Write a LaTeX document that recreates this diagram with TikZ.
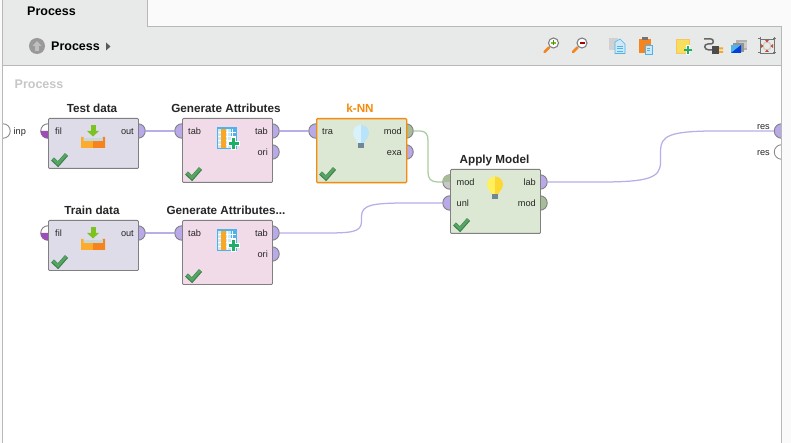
\documentclass[tikz,border=0pt]{standalone}
\usepackage{fontspec}
\setmainfont{Liberation Sans}
\definecolor{pagebg}{HTML}{FAFAFA}
\definecolor{barbg}{HTML}{E8E9E9}
\definecolor{frame}{HTML}{B8B8B8}
\definecolor{boxedge}{HTML}{808080}
\definecolor{lilac}{HTML}{DFDCEA}
\definecolor{pinkbox}{HTML}{F1DBE8}
\definecolor{greenbox}{HTML}{DCE8D3}
\definecolor{portpurple}{HTML}{B9A9E8}
\definecolor{portgreen}{HTML}{A6BD98}
\definecolor{wirepurple}{HTML}{B9AEE8}
\definecolor{wiregreen}{HTML}{A9CDA0}
\definecolor{selorange}{HTML}{F58A0B}
\definecolor{filpurple}{HTML}{9B4FB5}
\definecolor{checkdark}{HTML}{3E7F48}
\definecolor{checklight}{HTML}{55A664}
\tikzset{
  opbox/.style={draw=boxedge,line width=0.9pt,rounded corners=1pt,minimum width=90pt,inner sep=0pt,anchor=north west},
  optitle/.style={font=\bfseries\fontsize{11.7}{13}\selectfont,text=black!85,anchor=base,inner sep=0pt},
  portlabel/.style={font=\fontsize{9.2}{11}\selectfont,text=black!85,inner sep=0pt,anchor=base},
  port/.style={circle,draw=boxedge,line width=0.9pt,minimum size=14.5pt,inner sep=0pt,fill=portpurple},
  wire/.style={line width=1.25pt,draw=wirepurple},
}
\newcommand{\okmark}[2]{%
  \draw[line width=4.2pt,draw=checkdark,line join=miter] (#1+4.5,#2-9)--(#1+10,#2-3.8)--(#1+18.5,#2-13.5);
  \draw[line width=2.6pt,draw=checklight] (#1+5,#2-9)--(#1+10,#2-4.3)--(#1+18,#2-13.5);
}
\newcommand{\importicon}[2]{%
  \fill[HTML-arrow] (#1-2.5,#2-18)rectangle(#1+2.5,#2-12);
  \fill[HTML-arrow] (#1-6,#2-12)--(#1+6,#2-12)--(#1,#2-6.5)--cycle;
  \fill[HTML-trayl] (#1-12,#2-6)--(#1-9.5,#2-6)--(#1-9.5,#2-2)--(#1,#2-2)--(#1,#2+5)--(#1-12,#2+5)--cycle;
  \fill[HTML-trayr] (#1+12,#2-6)--(#1+9.5,#2-6)--(#1+9.5,#2-2)--(#1,#2-2)--(#1,#2+5)--(#1+12,#2+5)--cycle;
  \fill[HTML-traylight] (#1-9.5,#2-5)rectangle(#1+9.5,#2-2);
}
\newcommand{\tableicon}[2]{%
  \fill[HTML-cell] (#1,#2)rectangle(#1+20,#2+21);
  \fill[HTML-cellb] (#1,#2)rectangle(#1+20,#2+2);
  \fill[HTML-cellb] (#1+14,#2+2)rectangle(#1+20,#2+21);
  \foreach \gy in {5,9,13,17}{\draw[white,line width=0.7pt] (#1,#2+\gy)--(#1+20,#2+\gy);}
  \foreach \gx in {4,10,15}{\draw[white,line width=0.7pt] (#1+\gx,#2+2)--(#1+\gx,#2+21);}
  \draw[HTML-cellb,line width=0.7pt] (#1+.4,#2)--(#1+.4,#2+21)--(#1+19.6,#2+21)--(#1+19.6,#2);
  \fill[HTML-orangecol] (#1+4,#2+2)rectangle(#1+9,#2+21);
  \fill[white] (#1+14,#2+10)rectangle(#1+19,#2+23);
  \fill[white] (#1+10.5,#2+14)rectangle(#1+22.5,#2+19);
  \fill[HTML-plus] (#1+15,#2+11)rectangle(#1+18,#2+22);
  \fill[HTML-plus] (#1+11.5,#2+15)rectangle(#1+21.5,#2+18);
}
\newcommand{\bulbicon}[4]{%
  \fill[#3] (#1,#2-8) arc[start angle=-90,end angle=-270,radius=8] -- cycle;
  \fill[#4] (#1,#2-8) arc[start angle=-90,end angle=90,radius=8] -- cycle;
  \fill[#3] (#1-6,#2+5)--(#1,#2+5)--(#1,#2+10)--(#1-3,#2+10)--cycle;
  \fill[#4] (#1+6,#2+5)--(#1,#2+5)--(#1,#2+10)--(#1+3,#2+10)--cycle;
  \fill[HTML-bulbbase] (#1-3.2,#2+10)rectangle(#1+3.2,#2+15);
}
\definecolor{HTML-arrow}{HTML}{7CC322}
\definecolor{HTML-trayl}{HTML}{FCAB2C}
\definecolor{HTML-trayr}{HTML}{F5841F}
\definecolor{HTML-traylight}{HTML}{C5D8DC}
\definecolor{HTML-cell}{HTML}{CDE9F8}
\definecolor{HTML-cellb}{HTML}{4DB3EA}
\definecolor{HTML-orangecol}{HTML}{F9A825}
\definecolor{HTML-plus}{HTML}{1FAE66}
\definecolor{HTML-bulbbase}{HTML}{6F8796}
\definecolor{bulbbluel}{HTML}{D9F1FB}
\definecolor{bulbbluer}{HTML}{B8E3F8}
\definecolor{bulbyell}{HTML}{FFF05C}
\definecolor{bulbyelr}{HTML}{FDD835}
\definecolor{notey}{HTML}{F7DF5E}
\definecolor{fitred}{HTML}{C0502A}
\newcommand{\lensicon}[3]{%
  \draw[line width=2.6pt,draw=HTML-trayr,line cap=round] (#1-9,#2+9)--(#1-4.5,#2+4.5);
  \draw[line width=1.1pt,draw=black!50,fill=white] (#1,#2) circle[radius=5];
  \fill[#3] (#1-2.5,#2-.6)rectangle(#1+2.5,#2+.6);
}
\begin{document}
\begin{tikzpicture}[x=1pt,y=-1pt]
\useasboundingbox (0,0) rectangle (791,443);
% page and frame
\fill[pagebg] (0,0) rectangle (791,443);
\fill[white] (2.5,66) rectangle (781,443);
\fill[barbg] (2.5,26.5) rectangle (781,65.5);
\fill[barbg] (2.5,0) rectangle (147.5,27);
\draw[frame,line width=.8pt] (147.5,0)--(147.5,26.5)--(781.5,26.5);
\draw[frame,line width=.8pt] (2.5,65.5)--(781,65.5);
% text of the bars
\node[font=\bfseries\fontsize{12.5}{14}\selectfont,anchor=base west,inner sep=0pt] (tabtitle) at (27,16) {Process};
\fill[black!40] (37,46) circle[radius=8];
\fill[black!25] (37,41)--(41.5,46)--(38.8,46)--(38.8,51)--(35.2,51)--(35.2,46)--(32.5,46)--cycle;
\node[font=\bfseries\fontsize{12.5}{14}\selectfont,anchor=base west,inner sep=0pt] (crumb) at (51,51) {Process};
\fill[black!65] (106,42.5)--(110.5,46.5)--(106,50.5)--cycle;
\node[font=\bfseries\fontsize{12.5}{14}\selectfont,text=black!22,anchor=base west,inner sep=0pt] (canvastitle) at (14.5,88.5) {Process};
% toolbar icons
\lensicon{553.5}{43}{HTML-arrow}
\fill[HTML-arrow!70!black] (552.9,40.5)rectangle(554.1,45.5);
\lensicon{582}{43}{red!65!black}
\fill[black!18] (609,38)rectangle(618,50);
\fill[HTML-cell,draw=HTML-cellb,line width=.6pt] (615,42)--(620,39)--(625,44)--(625,53.5)--(615,53.5)--cycle;
\draw[HTML-cellb,line width=.7pt] (617,46)--(623,46) (617,48.5)--(623,48.5) (617,51)--(623,51);
\fill[HTML-trayr] (639,39)rectangle(651,53);
\fill[black!55] (642,37.5)rectangle(648,40);
\fill[HTML-cell,draw=HTML-cellb,line width=.6pt] (645,45)rectangle(652,54);
\draw[HTML-cellb,line width=.6pt] (647,48)--(650,48) (647,50.5)--(650,50.5);
\fill[notey,draw=HTML-orangecol!70,line width=.6pt] (676,39.5)rectangle(689.5,53.5);
\fill[white] (685.5,45)rectangle(690,55.5);
\fill[HTML-plus] (686.5,46)rectangle(689,54.5);
\fill[HTML-plus] (683.5,49)rectangle(692,51.5);
\draw[black!60,line width=1.5pt] (704,39)--(711,39) .. controls (714,39) and (714,44) .. (711,44) -- (708,44) .. controls (703,44) and (704,50) .. (709,50) -- (712,50);
\fill[black!70] (712,46)rectangle(719,54);
\fill[HTML-orangecol] (719,47.5)rectangle(723,49.5) (719,51)rectangle(723,53);
\fill[black!30] (736,40)rectangle(747,50);
\fill[black!20] (739,42)rectangle(747,48);
\fill[black!42] (733,43)rectangle(744,52);
\fill[HTML-cellb] (731,45)rectangle(741,53);
\fill[blue!70!cyan!85!black] (731,53)--(741,45)--(741,53)--cycle;
\draw[black!55,line width=.9pt] (760,39)rectangle(774,53);
\draw[black!55,line width=1pt] (758,39)--(761,39) (773,39)--(776,39) (758,53)--(761,53) (773,53)--(776,53) (760,37.5)--(760,40) (774,37.5)--(774,40) (760,52)--(760,54.5) (774,52)--(774,54.5);
\draw[black!20,line width=1.2pt] (767,46) circle[radius=4];
\fill[fitred] (765,40)--(769,40)--(767,42.5)--cycle (765,52)--(769,52)--(767,49.5)--cycle (761,44)--(761,48)--(763.5,46)--cycle (773,44)--(773,48)--(770.5,46)--cycle;
% ports
\begin{scope}
\clip (2.5,66) rectangle (781,443);
\node[port,fill=white,draw=black!45] (inp) at (3,131) {};
\node[port] (res1) at (781.5,131) {};
\node[port,fill=white,draw=black!45] (res2) at (781.5,152) {};
\end{scope}
\node[port,fill=white] (tfil) at (48,131) {};
\fill[filpurple] (48,131) -- (40.5,131) arc[start angle=180,end angle=90,radius=7.5] -- cycle;
\node[port] (tout) at (138,131) {};
\node[port,fill=white] (rfil) at (48,233) {};
\fill[filpurple] (48,233) -- (40.5,233) arc[start angle=180,end angle=90,radius=7.5] -- cycle;
\node[port] (rout) at (138,233) {};
\node[port] (g1in) at (182,131) {};
\node[port] (g1tab) at (272,131) {};
\node[port] (g1ori) at (272,152) {};
\node[port] (g2in) at (182,233) {};
\node[port] (g2tab) at (272,233) {};
\node[port] (g2ori) at (272,254) {};
\node[port] (ktra) at (316,131) {};
\node[port,fill=portgreen] (kmod) at (406,131) {};
\node[port] (kexa) at (406,152) {};
\node[port,fill=black!22] (amod) at (450,182) {};
\fill[portgreen] (442.5,182) arc[start angle=180,end angle=270,radius=7.5] -- (450,182) -- cycle;
\node[port] (aunl) at (450,203) {};
\node[port] (alab) at (540,182) {};
\node[port,fill=portgreen] (amod2) at (540,203) {};
% connectors
\draw[wire] (tout.east) -- (g1in.west);
\draw[wire] (rout.east) -- (g2in.west);
\draw[wire] (g1tab.east) -- (ktra.west);
\draw[wire,draw=wiregreen] (kmod.east) -- (419,131) .. controls (426,131) and (428,134) .. (428,141) -- (428,172) .. controls (428,179) and (431,182) .. (438,182) -- (amod.west);
\draw[wire] (g2tab.east) -- (325,233) .. controls (352,233) and (361,232) .. (361.5,222) -- (361.5,216) .. controls (362,205) and (372,203.5) .. (400,203) -- (aunl.west);
\draw[wire] (alab.east) -- (600,182) .. controls (648,182) and (660,178) .. (660.5,163) -- (660.5,150) .. controls (661,136) and (670,131.5) .. (710,131) -- (res1.west);
% operators
\node[opbox,fill=lilac,minimum height=50pt] (test) at (48,118) {};
\node[opbox,fill=lilac,minimum height=50pt] (train) at (48,220) {};
\node[opbox,fill=pinkbox,minimum height=64pt] (gen1) at (182,118) {};
\node[opbox,fill=pinkbox,minimum height=64pt] (gen2) at (182,220) {};
\node[opbox,fill=greenbox,minimum height=64pt,draw=selorange,line width=1.3pt] (knn) at (316,118) {};
\node[opbox,fill=greenbox,minimum height=64pt] (apply) at (450,169) {};
% titles
\node[optitle] (ttest) at (92,112.5) {Test data};
\node[optitle] (ttrain) at (92,214.5) {Train data};
\node[optitle] (tgen1) at (226,112.5) {Generate Attributes};
\node[optitle] (tgen2) at (226,214.5) {Generate Attributes...};
\node[optitle,text=selorange] (tknn) at (360,112.5) {k-NN};
\node[optitle] (tapply) at (494.5,163.5) {Apply Model};
% port labels
\node[portlabel,anchor=base west] (linp) at (13.5,134.5) {inp};
\node[portlabel,anchor=base west] (l1) at (55,134.5) {fil};
\node[portlabel,anchor=base east] (l2) at (134,134.5) {out};
\node[portlabel,anchor=base west] (l3) at (55,236.5) {fil};
\node[portlabel,anchor=base east] (l4) at (134,236.5) {out};
\node[portlabel,anchor=base west] (l5) at (188,134.5) {tab};
\node[portlabel,anchor=base east] (l6) at (268,134.5) {tab};
\node[portlabel,anchor=base east] (l7) at (268,155.5) {ori};
\node[portlabel,anchor=base west] (l8) at (188,236.5) {tab};
\node[portlabel,anchor=base east] (l9) at (268,236.5) {tab};
\node[portlabel,anchor=base east] (l10) at (268,257.5) {ori};
\node[portlabel,anchor=base west] (l11) at (322,134.5) {tra};
\node[portlabel,anchor=base east] (l12) at (402,134.5) {mod};
\node[portlabel,anchor=base east] (l13) at (402,155.5) {exa};
\node[portlabel,anchor=base west] (l14) at (456.5,185.5) {mod};
\node[portlabel,anchor=base west] (l15) at (456.5,206.5) {unl};
\node[portlabel,anchor=base east] (l16) at (536,185.5) {lab};
\node[portlabel,anchor=base east] (l17) at (536,206.5) {mod};
\node[portlabel,anchor=base east] (lres1) at (770,129.5) {res};
\node[portlabel,anchor=base east] (lres2) at (770,155.5) {res};
% icons
\importicon{93}{143}
\importicon{93}{245}
\tableicon{217}{127}
\tableicon{217}{229}
\bulbicon{361}{133}{bulbbluel}{bulbbluer}
\bulbicon{495}{184.5}{bulbyell}{bulbyelr}
\okmark{48}{168}
\okmark{48}{270}
\okmark{182}{182}
\okmark{182}{284}
\okmark{316}{182}
\okmark{450}{233}
% frame over the clipped ports
\fill[pagebg] (782,26) rectangle (791,443);
\draw[frame,line width=1pt] (2.5,0)--(2.5,443);
\draw[frame,line width=1pt] (781.5,26.5)--(781.5,443);
\end{tikzpicture}
\end{document}
